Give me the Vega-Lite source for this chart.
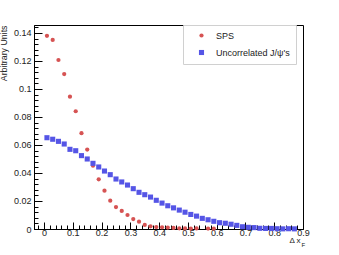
{
  "$schema": "https://vega.github.io/schema/vega-lite/v6.json",
  "width": 269,
  "height": 204,
  "autosize": "none",
  "padding": {"left": 34, "top": 25, "right": 36, "bottom": 26},
  "background": "white",
  "config": {
    "font": "Liberation Sans",
    "view": {"stroke": "black", "strokeWidth": 1},
    "axis": {"labelFont": "Liberation Sans", "titleFont": "Liberation Sans", "labelColor": "#222", "titleColor": "#222", "grid": false, "tickColor": "black", "domainColor": "black"}
  },
  "resolve": {"axis": {"x": "independent", "y": "independent"}},
  "data": {
    "values": [
      {"x": 0.01, "y": 0.1380, "s": "SPS"},
      {"x": 0.03, "y": 0.1350, "s": "SPS"},
      {"x": 0.05, "y": 0.1207, "s": "SPS"},
      {"x": 0.07, "y": 0.1107, "s": "SPS"},
      {"x": 0.09, "y": 0.0945, "s": "SPS"},
      {"x": 0.11, "y": 0.0841, "s": "SPS"},
      {"x": 0.13, "y": 0.0684, "s": "SPS"},
      {"x": 0.15, "y": 0.0567, "s": "SPS"},
      {"x": 0.17, "y": 0.0452, "s": "SPS"},
      {"x": 0.19, "y": 0.0355, "s": "SPS"},
      {"x": 0.21, "y": 0.0274, "s": "SPS"},
      {"x": 0.23, "y": 0.0202, "s": "SPS"},
      {"x": 0.25, "y": 0.0157, "s": "SPS"},
      {"x": 0.27, "y": 0.0129, "s": "SPS"},
      {"x": 0.29, "y": 0.0100, "s": "SPS"},
      {"x": 0.31, "y": 0.0071, "s": "SPS"},
      {"x": 0.33, "y": 0.0052, "s": "SPS"},
      {"x": 0.35, "y": 0.0029, "s": "SPS"},
      {"x": 0.37, "y": 0.0019, "s": "SPS"},
      {"x": 0.39, "y": 0.0014, "s": "SPS"},
      {"x": 0.41, "y": 0.0012, "s": "SPS"},
      {"x": 0.43, "y": 0.0010, "s": "SPS"},
      {"x": 0.45, "y": 0.0008, "s": "SPS"},
      {"x": 0.47, "y": 0.0005, "s": "SPS"},
      {"x": 0.49, "y": 0.0004, "s": "SPS"},
      {"x": 0.51, "y": 0.0003, "s": "SPS"},
      {"x": 0.53, "y": 0.0004, "s": "SPS"},
      {"x": 0.57, "y": 0.0003, "s": "SPS"},
      {"x": 0.59, "y": 0.0002, "s": "SPS"},
      {"x": 0.01, "y": 0.0652, "s": "Uncorrelated J/ψ's"},
      {"x": 0.03, "y": 0.0641, "s": "Uncorrelated J/ψ's"},
      {"x": 0.05, "y": 0.0626, "s": "Uncorrelated J/ψ's"},
      {"x": 0.07, "y": 0.0607, "s": "Uncorrelated J/ψ's"},
      {"x": 0.09, "y": 0.0569, "s": "Uncorrelated J/ψ's"},
      {"x": 0.11, "y": 0.0559, "s": "Uncorrelated J/ψ's"},
      {"x": 0.13, "y": 0.0524, "s": "Uncorrelated J/ψ's"},
      {"x": 0.15, "y": 0.0500, "s": "Uncorrelated J/ψ's"},
      {"x": 0.17, "y": 0.0469, "s": "Uncorrelated J/ψ's"},
      {"x": 0.19, "y": 0.0443, "s": "Uncorrelated J/ψ's"},
      {"x": 0.21, "y": 0.0414, "s": "Uncorrelated J/ψ's"},
      {"x": 0.23, "y": 0.0388, "s": "Uncorrelated J/ψ's"},
      {"x": 0.25, "y": 0.0357, "s": "Uncorrelated J/ψ's"},
      {"x": 0.27, "y": 0.0336, "s": "Uncorrelated J/ψ's"},
      {"x": 0.29, "y": 0.0314, "s": "Uncorrelated J/ψ's"},
      {"x": 0.31, "y": 0.0288, "s": "Uncorrelated J/ψ's"},
      {"x": 0.33, "y": 0.0262, "s": "Uncorrelated J/ψ's"},
      {"x": 0.35, "y": 0.0245, "s": "Uncorrelated J/ψ's"},
      {"x": 0.37, "y": 0.0228, "s": "Uncorrelated J/ψ's"},
      {"x": 0.39, "y": 0.0205, "s": "Uncorrelated J/ψ's"},
      {"x": 0.41, "y": 0.0185, "s": "Uncorrelated J/ψ's"},
      {"x": 0.43, "y": 0.0166, "s": "Uncorrelated J/ψ's"},
      {"x": 0.45, "y": 0.0151, "s": "Uncorrelated J/ψ's"},
      {"x": 0.47, "y": 0.0135, "s": "Uncorrelated J/ψ's"},
      {"x": 0.49, "y": 0.0120, "s": "Uncorrelated J/ψ's"},
      {"x": 0.51, "y": 0.0104, "s": "Uncorrelated J/ψ's"},
      {"x": 0.53, "y": 0.0092, "s": "Uncorrelated J/ψ's"},
      {"x": 0.55, "y": 0.0076, "s": "Uncorrelated J/ψ's"},
      {"x": 0.57, "y": 0.0066, "s": "Uncorrelated J/ψ's"},
      {"x": 0.59, "y": 0.0055, "s": "Uncorrelated J/ψ's"},
      {"x": 0.61, "y": 0.0045, "s": "Uncorrelated J/ψ's"},
      {"x": 0.63, "y": 0.0041, "s": "Uncorrelated J/ψ's"},
      {"x": 0.65, "y": 0.0034, "s": "Uncorrelated J/ψ's"},
      {"x": 0.67, "y": 0.0026, "s": "Uncorrelated J/ψ's"},
      {"x": 0.69, "y": 0.0016, "s": "Uncorrelated J/ψ's"},
      {"x": 0.71, "y": 0.0012, "s": "Uncorrelated J/ψ's"},
      {"x": 0.73, "y": 0.0010, "s": "Uncorrelated J/ψ's"},
      {"x": 0.75, "y": 0.0005, "s": "Uncorrelated J/ψ's"},
      {"x": 0.77, "y": 0.0004, "s": "Uncorrelated J/ψ's"},
      {"x": 0.79, "y": 0.0004, "s": "Uncorrelated J/ψ's"},
      {"x": 0.81, "y": 0.0002, "s": "Uncorrelated J/ψ's"},
      {"x": 0.83, "y": 0.0001, "s": "Uncorrelated J/ψ's"},
      {"x": 0.85, "y": 0.0002, "s": "Uncorrelated J/ψ's"},
      {"x": 0.87, "y": 0.0001, "s": "Uncorrelated J/ψ's"}
    ]
  },
  "layer": [
    {
      "mark": {"type": "point", "filled": true, "opacity": 1},
      "encoding": {
        "x": {"field": "x", "type": "quantitative", "scale": {"domain": [-0.035, 0.9], "nice": false, "zero": false},
          "axis": {"orient": "bottom", "values": [0, 0.1, 0.2, 0.3, 0.4, 0.5, 0.6, 0.7, 0.8, 0.9], "tickSize": -7, "labelPadding": 6.5, "labelFontSize": 9, "format": "~g", "title": "Δ x", "titleFontSize": 8, "titleFontWeight": "normal", "titleAnchor": "end", "titleAlign": "right", "titleX": 266, "titleY": 7.5, "labelFlush": false}},
        "y": {"field": "y", "type": "quantitative", "scale": {"domain": [0, 0.1457], "nice": false},
          "axis": {"orient": "left", "values": [0, 0.02, 0.04, 0.06, 0.08, 0.1, 0.12, 0.14], "tickSize": -8, "labelPadding": 11, "labelFontSize": 9, "format": "~g", "title": "Arbitrary Units", "titleFontSize": 8.8, "titleFontWeight": "normal", "titleAnchor": "end", "titlePadding": 5, "labelFlush": false}},
        "color": {"field": "s", "type": "nominal", "scale": {"domain": ["SPS", "Uncorrelated J/ψ's"], "range": ["#d65353", "#5555e6"]},
          "legend": {"title": null, "orient": "none", "legendX": 149, "legendY": 0, "fillColor": "white", "strokeColor": "#d0d0d0", "padding": 6, "labelFontSize": 9, "labelFont": "Liberation Sans", "labelColor": "#222", "symbolSize": 16, "rowPadding": 7, "labelOffset": 10, "symbolOffset": 8}},
        "shape": {"field": "s", "type": "nominal", "scale": {"domain": ["SPS", "Uncorrelated J/ψ's"], "range": ["circle", "square"]}},
        "size": {"field": "s", "type": "nominal", "scale": {"domain": ["SPS", "Uncorrelated J/ψ's"], "range": [18, 26]}, "legend": null}
      }
    },
    {
      "mark": {"type": "point", "opacity": 0},
      "encoding": {
        "x": {"field": "x", "type": "quantitative",
          "axis": {"orient": "bottom", "values": [-0.02, 0.02, 0.04, 0.06, 0.08, 0.12, 0.14, 0.16, 0.18, 0.22, 0.24, 0.26, 0.28, 0.32, 0.34, 0.36, 0.38, 0.42, 0.44, 0.46, 0.48, 0.52, 0.54, 0.56, 0.58, 0.62, 0.64, 0.66, 0.68, 0.72, 0.74, 0.76, 0.78, 0.82, 0.84, 0.86, 0.88], "tickSize": -4, "labels": false, "domain": false, "title": "F", "titleFontSize": 6, "titleFontWeight": "normal", "titleAnchor": "start", "titleAlign": "left", "titleX": 267, "titleY": 12}},
        "y": {"field": "y", "type": "quantitative",
          "axis": {"orient": "left", "values": [0.004, 0.008, 0.012, 0.016, 0.024, 0.028, 0.032, 0.036, 0.044, 0.048, 0.052, 0.056, 0.064, 0.068, 0.072, 0.076, 0.084, 0.088, 0.092, 0.096, 0.104, 0.108, 0.112, 0.116, 0.124, 0.128, 0.132, 0.136, 0.144], "tickSize": -4, "labels": false, "domain": false, "title": null}}
      }
    }
  ]
}
